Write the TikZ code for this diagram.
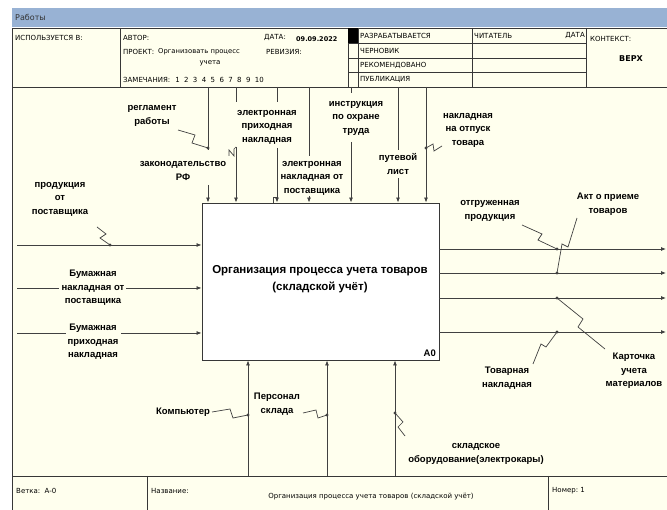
\documentclass[tikz,border=0pt]{standalone}
\usepackage{fontspec}
\setmainfont{Liberation Sans}
\newfontfamily\hdrff{DejaVu Sans}
\usetikzlibrary{arrows.meta}
\definecolor{bgc}{RGB}{255,255,238}
\definecolor{barc}{RGB}{152,178,212}
\definecolor{linec}{RGB}{65,65,65}
\definecolor{framec}{RGB}{55,55,55}
\newcommand\lblfont{\fontsize{9.5}{13.5}\selectfont\bfseries}
\newcommand\hdrfont{\hdrff\fontsize{7}{8}\selectfont}
\begin{document}
\begin{tikzpicture}[x=1pt,y=-1pt,
  ln/.style={draw=linec, line width=0.8pt},
  arr/.style={ln, -{Latex[length=5pt,width=4pt]}},
  sq/.style={draw=linec, line width=0.7pt},
  frm/.style={draw=framec, line width=0.8pt},
  lbl/.style={font=\lblfont, align=center, inner sep=0pt, text=black},
  hdr/.style={font=\hdrfont, anchor=west, inner sep=0pt, text=black},
  dotc/.style={fill=linec}]
\useasboundingbox (0,0) rectangle (667,510);
\fill[white] (0,0) rectangle (667,510);
\fill[barc] (12,8) rectangle (667,27);
\fill[bgc] (12,28) rectangle (667,510);
% frame
\draw[frm] (12,28) -- (667,28);
\draw[frm] (12,87) -- (667,87);
\draw[frm] (12,476) -- (667,476);
\draw[frm] (12,28) -- (12,510);
\foreach \xx in {120,348,358,472,586} \draw[frm] (\xx,28) -- (\xx,87);
\foreach \yy in {43,58,72} \draw[frm] (348,\yy) -- (586,\yy);
\fill[black] (348,28) rectangle (358,43);
\foreach \xx in {147,548} \draw[frm] (\xx,476) -- (\xx,510);
% title bar
\node[hdr, font=\hdrff\fontsize{8}{9}\selectfont, text=black!80] (bar) at (15,17.5) {Работы};
% header texts
\node[hdr] (h1) at (15,38) {ИСПОЛЬЗУЕТСЯ В:};
\node[hdr] (h2) at (123,38) {АВТОР:};
\node[hdr] (h3) at (264,38) {ДАТА:};
\node[hdr, font=\hdrff\fontsize{6.5}{8}\selectfont\bfseries] (h4) at (296,39) {09.09.2022};
\node[hdr] (h5) at (123,52) {ПРОЕКТ:};
\node[hdr, font=\hdrff\fontsize{6.8}{8}\selectfont] (h6) at (158,52) {Организовать процесс};
\node[hdr] (h7) at (266,52) {РЕВИЗИЯ:};
\node[hdr, anchor=center] (h8) at (210,63) {учета};
\node[hdr] (h9) at (123,80) {ЗАМЕЧАНИЯ:\hspace{5pt}1\hspace{4.4pt}2\hspace{4.4pt}3\hspace{4.4pt}4\hspace{4.4pt}5\hspace{4.4pt}6\hspace{4.4pt}7\hspace{4.4pt}8\hspace{4.4pt}9\hspace{4.4pt}10};
\node[hdr] (s1) at (360,36) {РАЗРАБАТЫВАЕТСЯ};
\node[hdr] (s2) at (360,51) {ЧЕРНОВИК};
\node[hdr] (s3) at (360,65.5) {РЕКОМЕНДОВАНО};
\node[hdr] (s4) at (360,80) {ПУБЛИКАЦИЯ};
\node[hdr] (r1) at (474,36) {ЧИТАТЕЛЬ};
\node[hdr, anchor=east] (r2) at (585,36) {ДАТА};
\node[hdr] (c1) at (590,39) {КОНТЕКСТ:};
\node[hdr, anchor=center, font=\hdrff\fontsize{8}{9}\selectfont\bfseries] (c2) at (631,59) {ВЕРХ};
% footer texts
\node[hdr] (f1) at (16,491) {Ветка:\ \ A-0};
\node[hdr] (f2) at (151,491) {Название:};
\node[hdr, anchor=center] (f3) at (371,497) {Организация процесса учета товаров (складской учёт)};
\node[hdr] (f4) at (552,491) {Номер:\ 1};
% main box
\node[draw=framec, line width=0.9pt, fill=white, minimum width=237pt, minimum height=157pt, inner sep=0pt] (A0) at (320.5,281.5) {};
\node[font=\fontsize{11.5}{17}\selectfont\bfseries, align=center, inner sep=0pt] (title) at (320,279) {Организация процесса учета товаров\\(складской учёт)};
\node[font=\fontsize{9.5}{11}\selectfont\bfseries, anchor=south east, inner sep=0pt] (a0lab) at (436,357) {A0};
% labels
\node[lbl] (lprod) at (60,199) {продукция\\от\\поставщика};
\node[lbl] (lbum1) at (93,288) {Бумажная\\накладная от\\поставщика};
\node[lbl] (lbum2) at (93,342) {Бумажная\\приходная\\накладная};
\node[lbl] (lreg) at (152,116) {регламент\\работы};
\node[lbl] (lzak) at (183,171) {законодательство\\РФ};
\node[lbl] (lepn) at (267,127) {электронная\\приходная\\накладная};
\node[lbl] (lenp) at (312,178) {электронная\\накладная от\\поставщика};
\node[lbl] (lins) at (356,118) {инструкция\\по охране\\труда};
\node[lbl] (lput) at (398,164) {путевой\\лист};
\node[lbl] (lnot) at (468,130) {накладная\\на отпуск\\товара};
\node[lbl] (lotg) at (490,211) {отгруженная\\продукция};
\node[lbl] (lakt) at (608,204) {Акт о приеме\\товаров};
\node[lbl] (lkar) at (634,371) {Карточка\\учета\\материалов};
\node[lbl] (ltov) at (507,378) {Товарная\\накладная};
\node[lbl] (lkom) at (183,412) {Компьютер};
\node[lbl] (lper) at (277,404) {Персонал\\склада};
\node[lbl] (lskl) at (476,454) {складское\\оборудование(электрокары)};
% inputs
\draw[arr] (17,245) -- (0,245 -| A0.west);
\draw[ln] (17,288) -- (59,288);
\draw[arr] (126,288) -- (0,288 -| A0.west);
\draw[ln] (17,333) -- (66,333);
\draw[arr] (121,333) -- (0,333 -| A0.west);
% controls
\draw[ln] (208,87) -- (208,150);
\draw[arr] (208,185) -- (208,0 |- A0.north);
\draw[ln] (236,87) -- (236,102);
\draw[arr] (236,147) -- (236,0 |- A0.north);
\draw[ln] (277,87) -- (277,102);
\draw[arr] (277,148) -- (277,0 |- A0.north);
\draw[ln] (309,87) -- (309,156);
\draw[arr] (309,196) -- (309,0 |- A0.north);
\draw[ln] (351,87) -- (351,93);
\draw[arr] (351,142) -- (351,0 |- A0.north);
\draw[ln] (398,87) -- (398,150);
\draw[arr] (398,178) -- (398,0 |- A0.north);
\draw[arr] (426,87) -- (426,0 |- A0.north);
% outputs
\foreach \yy in {249,273,298,332} \draw[arr] (0,\yy -| A0.east) -- (666,\yy);
% mechanisms
\foreach \xx in {248,327,395} \draw[arr] (\xx,476) -- (\xx,0 |- A0.south);
% squiggles
\draw[sq] (97,227) -- (106,234) -- (100,238) -- (110,245);
\draw[sq] (178,130) -- (195,135) -- (192,143) -- (208,148);
\draw[sq] (229,156) -- (229,150) -- (234,156) -- (234,149) -- (236,147);
\draw[sq] (273,203) -- (273,197) -- (277,197);
\draw[sq] (426,148) -- (433,144) -- (434,151) -- (442,146);
\draw[sq] (522,225) -- (542,234) -- (538,240) -- (557,249);
\draw[sq] (577,218) -- (568,247) -- (562,244) -- (557,273);
\draw[sq] (557,298) -- (583,319) -- (578,327) -- (605,349);
\draw[sq] (557,332) -- (546,347) -- (541,344) -- (533,364);
\draw[sq] (212,412) -- (230,409) -- (233,418) -- (248,415);
\draw[sq] (303,413) -- (316,410) -- (318,418) -- (327,415);
\draw[sq] (395,413) -- (403,422) -- (398,427) -- (405,436);
% dots
\foreach \p in {(110,245),(208,148),(426,148),(557,249),(557,273),(557,298),(557,332),(248,415),(327,415),(395,413)}
  \fill[dotc] \p circle (1.6);
\end{tikzpicture}
\end{document}
